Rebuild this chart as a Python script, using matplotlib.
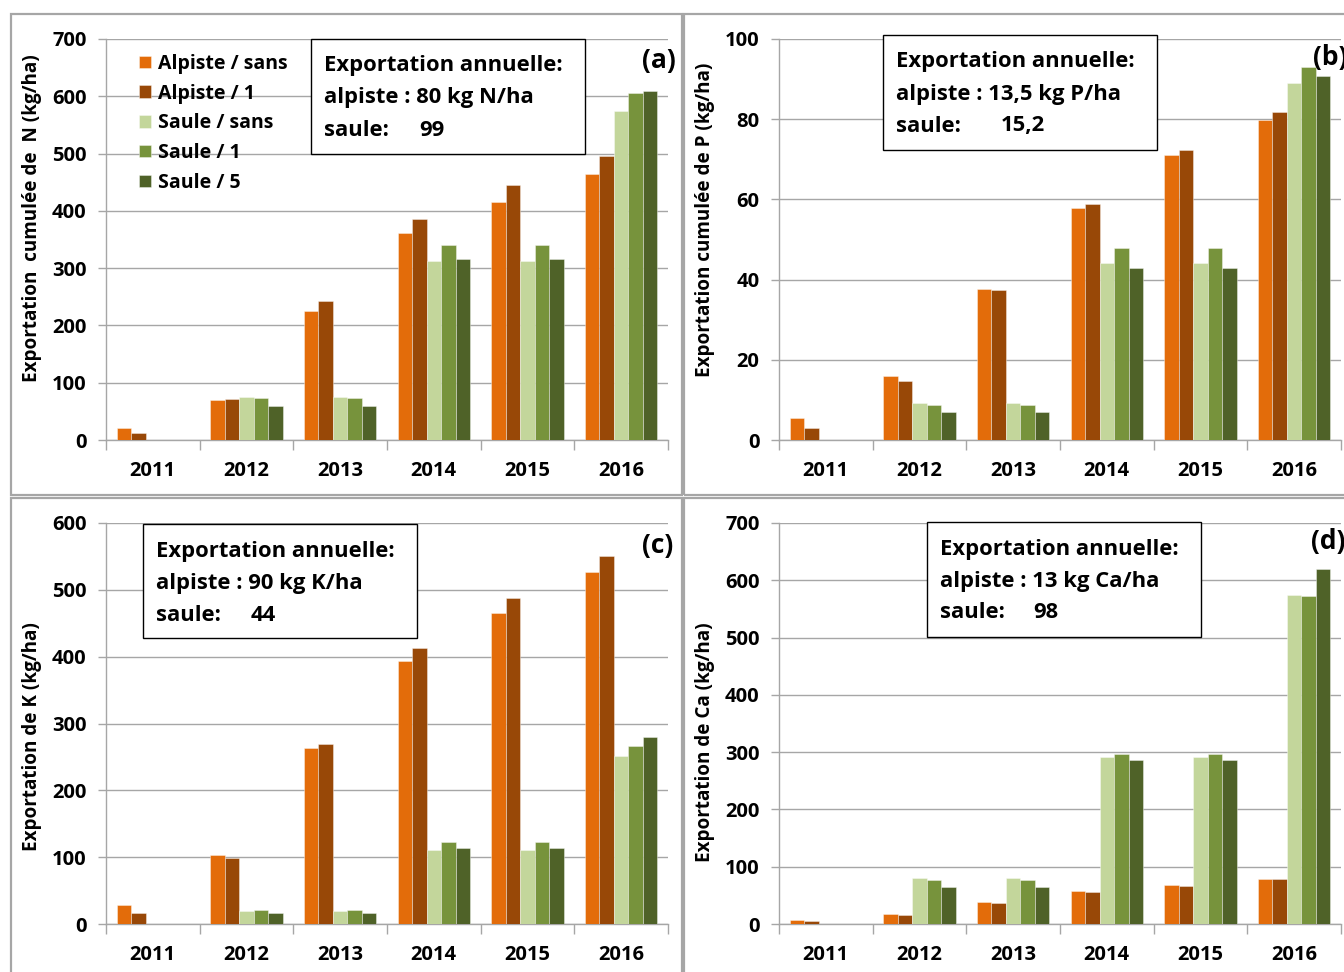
import matplotlib
matplotlib.use("Agg")
import matplotlib.pyplot as plt
from matplotlib.patches import Rectangle
import numpy as np

plt.rcParams['font.family'] = ['Open Sans', 'DejaVu Sans']
plt.rcParams['font.weight'] = 'bold'

years = ["2011", "2012", "2013", "2014", "2015", "2016"]
series_names = ["Alpiste / sans", "Alpiste / 1", "Saule / sans", "Saule / 1", "Saule / 5"]
series_colors = ["#E36C0A", "#984807", "#C3D69B", "#77933C", "#4F6228"]

# cumulative N export (kg/ha)
n_alpiste_sans = [21, 70, 226, 361, 415, 464]
n_alpiste_1 = [12, 71, 243, 386, 445, 496]
n_saule_sans = [0, 75, 75, 312, 312, 574]
n_saule_1 = [0, 73, 73, 340, 340, 605]
n_saule_5 = [0, 60, 60, 316, 316, 609]

# cumulative P export (kg/ha)
p_alpiste_sans = [5.5, 16.0, 37.6, 57.8, 71.0, 79.8]
p_alpiste_1 = [3.0, 14.7, 37.4, 58.8, 72.3, 81.7]
p_saule_sans = [0, 9.2, 9.2, 44.2, 44.2, 89.0]
p_saule_1 = [0, 8.8, 8.8, 47.8, 47.8, 93.0]
p_saule_5 = [0, 7.0, 7.0, 42.8, 42.8, 90.7]

# cumulative K export (kg/ha)
k_alpiste_sans = [29, 103, 263, 394, 465, 526]
k_alpiste_1 = [17, 99, 270, 413, 488, 551]
k_saule_sans = [0, 20, 20, 110, 110, 252]
k_saule_1 = [0, 21, 21, 122, 122, 266]
k_saule_5 = [0, 17, 17, 114, 114, 280]

# cumulative Ca export (kg/ha)
ca_alpiste_sans = [7, 17, 38, 57, 68, 79]
ca_alpiste_1 = [5, 16, 37, 55, 66, 78]
ca_saule_sans = [0, 80, 80, 292, 292, 574]
ca_saule_1 = [0, 76, 76, 297, 297, 573]
ca_saule_5 = [0, 65, 65, 287, 287, 620]

panels = [
    dict(series=[n_alpiste_sans, n_alpiste_1, n_saule_sans, n_saule_1, n_saule_5],
         ymax=700, ystep=100, ylabel="Exportation  cumulée de  N (kg/ha)", tag="(a)",
         box=["Exportation annuelle:", "alpiste : 80 kg N/ha", "saule:"], saule_val="99"),
    dict(series=[p_alpiste_sans, p_alpiste_1, p_saule_sans, p_saule_1, p_saule_5],
         ymax=100, ystep=20, ylabel="Exportation cumulée de P (kg/ha)", tag="(b)",
         box=["Exportation annuelle:", "alpiste : 13,5 kg P/ha", "saule:"], saule_val="15,2"),
    dict(series=[k_alpiste_sans, k_alpiste_1, k_saule_sans, k_saule_1, k_saule_5],
         ymax=600, ystep=100, ylabel="Exportation de K (kg/ha)", tag="(c)",
         box=["Exportation annuelle:", "alpiste : 90 kg K/ha", "saule:"], saule_val="44"),
    dict(series=[ca_alpiste_sans, ca_alpiste_1, ca_saule_sans, ca_saule_1, ca_saule_5],
         ymax=700, ystep=100, ylabel="Exportation de Ca (kg/ha)", tag="(d)",
         box=["Exportation annuelle:", "alpiste : 13 kg Ca/ha", "saule:"], saule_val="98"),
]

W, H = 1344, 972
fig = plt.figure(figsize=(W / 100, H / 100), dpi=100)
fig.patch.set_facecolor("white")

def fx(px):
    return px / W

def fy(py):
    return 1 - py / H

# layout in pixels: (axis left, axis right, y of top tick, y of zero)
layout = [
    (106, 668, 39, 440),
    (779, 1341, 39, 440),
    (106, 668, 523, 924),
    (779, 1341, 523, 924),
]
frames = [(11, 14, 682, 495), (684, 14, 1400, 495), (11, 498, 682, 1000), (684, 498, 1400, 1000)]
ylabel_pos = [(32, 218), (705, 220), (32, 737), (705, 742)]
tag_pos = [(659, 60), (1330, 58), (658, 545), (1328, 541)]
box_rects = [(311, 39, 585, 154), (883, 35, 1157, 150), (143, 524, 417, 638), (927, 522, 1201, 637)]
val_offsets = [95, 105, 95, 93]

grid_color = "#A6A6A6"
fs_tick = 14.5
fs_text = 15.8

for i, p in enumerate(panels):
    # outer panel frame
    fl, ft, fr, fb = frames[i]
    fig.add_artist(Rectangle((fx(fl), fy(fb)), fx(fr) - fx(fl), fy(ft) - fy(fb),
                             transform=fig.transFigure, fill=False,
                             edgecolor=grid_color, linewidth=1.6, zorder=0))

    l, r, t, b = layout[i]
    ax = fig.add_axes([fx(l), fy(b), fx(r) - fx(l), fy(t) - fy(b)])
    x = np.arange(len(years))
    bw = 0.155
    for k, (vals, name, col) in enumerate(zip(p["series"], series_names, series_colors)):
        ax.bar(x + (k - 2) * bw, vals, width=bw, color=col, label=name,
               edgecolor=(1, 1, 1, 0.45), linewidth=0.6, zorder=3)
    ax.set_xlim(-0.5, len(years) - 0.5)
    ax.set_ylim(0, p["ymax"])
    ax.set_yticks(np.arange(0, p["ymax"] + 0.1, p["ystep"]))
    ax.yaxis.grid(True, color=grid_color, linewidth=1.0, zorder=0)
    ax.set_axisbelow(True)
    for s in ["top", "right"]:
        ax.spines[s].set_visible(False)
    for s in ["left", "bottom"]:
        ax.spines[s].set_color(grid_color)
        ax.spines[s].set_linewidth(1.0)
    ax.tick_params(axis="y", length=6, width=1.0, color=grid_color, labelsize=fs_tick, pad=8)
    ax.set_yticklabels([f"{int(v)}" for v in ax.get_yticks()], fontweight="bold")
    # category separators as ticks, labels centered
    ax.set_xticks(np.arange(-0.5, len(years), 1.0))
    ax.set_xticklabels([])
    ax.set_xticks(x, minor=True)
    ax.set_xticklabels(years, minor=True, fontweight="bold", fontsize=fs_tick)
    ax.tick_params(axis="x", which="major", length=7, width=1.0, color=grid_color, direction="out")
    ax.tick_params(axis="x", which="minor", length=0, pad=15)

    lx, ly = ylabel_pos[i]
    fig.text(fx(lx), fy(ly), p["ylabel"], rotation=90, ha="center", va="center",
             fontsize=13.6, fontweight="bold")

    tx, ty = tag_pos[i]
    fig.text(fx(tx), fy(ty), p["tag"], ha="center", va="center", fontsize=19, fontweight="bold")

    bl, bt, br, bb = box_rects[i]
    fig.add_artist(Rectangle((fx(bl), fy(bb)), fx(br) - fx(bl), fy(bt) - fy(bb),
                             transform=fig.transFigure, facecolor="white",
                             edgecolor="black", linewidth=1.0, zorder=5))
    for j, line in enumerate(p["box"]):
        fig.text(fx(bl + 13), fy(bt + 27 + j * 32), line, ha="left", va="center",
                 fontsize=fs_text, fontweight="bold", zorder=6)
    fig.text(fx(bl + 13 + val_offsets[i]), fy(bt + 27 + 2 * 32), p["saule_val"],
             ha="left", va="center", fontsize=fs_text, fontweight="bold", zorder=6)

    if i == 0:
        ax.legend(loc="upper left", bbox_to_anchor=(fx(131), fy(46)),
                  bbox_transform=fig.transFigure, frameon=False,
                  prop={"size": 14, "weight": "bold"}, handlelength=0.62, handleheight=0.62,
                  handletextpad=0.35, labelspacing=0.5, borderaxespad=0)

fig.savefig("out.png", dpi=100)
